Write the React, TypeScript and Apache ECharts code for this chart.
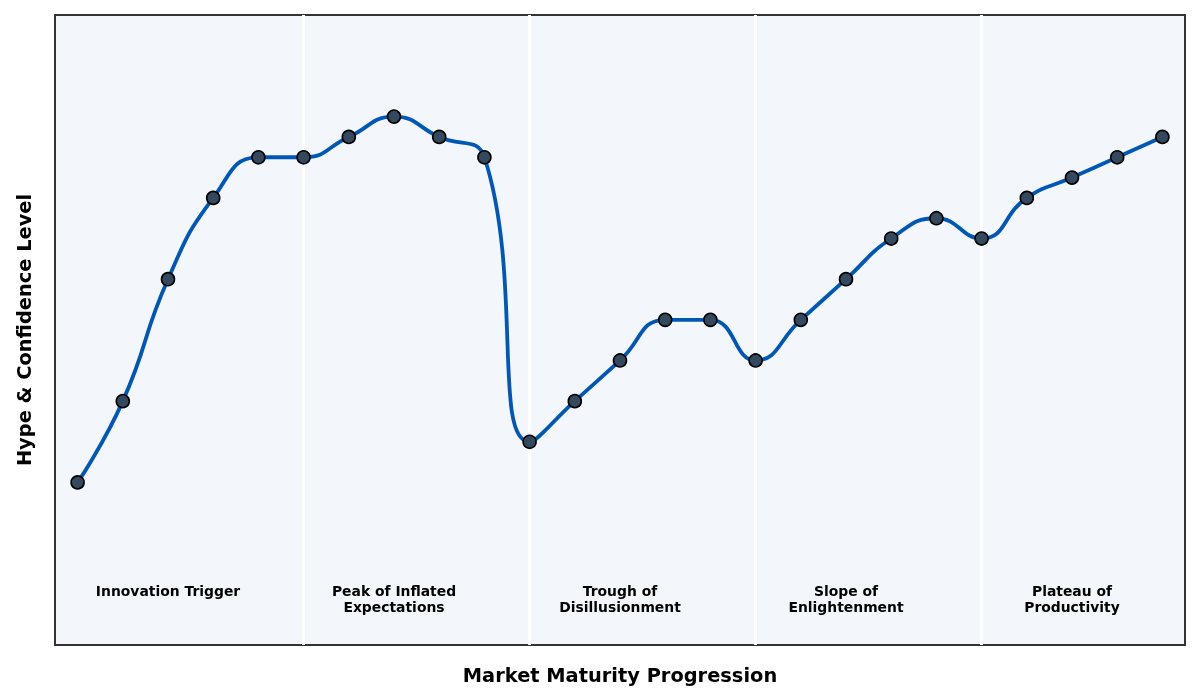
import * as echarts from "echarts";
import { useEffect, useRef } from "react";

const hypeLevels = [40, 60, 90, 110, 120, 120, 125, 130, 125, 120, 50, 60, 70, 80, 80, 70, 80, 90, 100, 105, 100, 110, 115, 120, 125];
const phaseNames = [
	"Innovation Trigger",
	"Peak of Inflated\nExpectations",
	"Trough of\nDisillusionment",
	"Slope of\nEnlightenment",
	"Plateau of\nProductivity"
];
const phaseCenters = [2, 7, 12, 17, 22];
const phaseBoundaries = [5, 10, 15, 20];
const phaseLabelLevel = 15.3;

const FONT = "DejaVu Sans";

export default function App() {
	const chartRef = useRef<HTMLDivElement>(null);

	useEffect(() => {
		if (!chartRef.current) return;
		const chart = echarts.init(chartRef.current, null, { renderer: "svg" });

		const option: echarts.EChartsOption = {
			animation: false,
			textStyle: { fontFamily: FONT },
			grid: {
				left: 55,
				right: 15,
				top: 15,
				bottom: 55,
				show: true,
				backgroundColor: "#f3f6fa",
				borderColor: "#333333",
				borderWidth: 2
			},
			xAxis: {
				type: "value",
				min: -0.5,
				max: 24.5,
				name: "Market Maturity Progression",
				nameLocation: "middle",
				nameGap: 21,
				nameTextStyle: { fontFamily: FONT, fontSize: 19.4, fontWeight: "bold", color: "#000" },
				axisLine: { show: false },
				axisTick: { show: false },
				axisLabel: { show: false },
				splitLine: { show: false }
			},
			yAxis: {
				type: "value",
				min: 0,
				max: 155,
				name: "Hype & Confidence Level",
				nameLocation: "middle",
				nameGap: 21,
				nameTextStyle: { fontFamily: FONT, fontSize: 19.4, fontWeight: "bold", color: "#000" },
				axisLine: { show: false },
				axisTick: { show: false },
				axisLabel: { show: false },
				splitLine: { show: false }
			},
			series: [
				{
					type: "line",
					data: [],
					z: 1,
					silent: true,
					markLine: {
						z: 1,
						symbol: "none",
						silent: true,
						label: { show: false },
						emphasis: { disabled: true },
						lineStyle: { color: "#ffffff", width: 3, type: "solid", opacity: 1 },
						data: phaseBoundaries.map(x => ({ xAxis: x }))
					}
				},
				{
					type: "line",
					z: 3,
					data: hypeLevels.map((v, i) => [i, v]),
					smooth: true,
					symbol: "circle",
					symbolSize: 13,
					lineStyle: { color: "#0057b7", width: 3.8 },
					itemStyle: { color: "#34495e", borderColor: "#000000", borderWidth: 1.6 }
				},
				{
					type: "scatter",
					z: 4,
					silent: true,
					symbolSize: 0,
					data: phaseCenters.map((x, i) => ({ value: [x, phaseLabelLevel], name: phaseNames[i] })),
					label: {
						show: true,
						position: "bottom",
						distance: 0,
						formatter: (p: { name: string }) => p.name,
						fontFamily: FONT,
						fontSize: 13.9,
						fontWeight: "bold",
						lineHeight: 16,
						align: "center",
						color: "#000000",
						opacity: 1,
						textBorderWidth: 0
					}
				}
			]
		};

		chart.setOption(option);
		return () => chart.dispose();
	}, []);

	return <div ref={chartRef} style={{ position: "fixed", left: 0, top: 0, width: 1200, height: 700 }} />;
}
